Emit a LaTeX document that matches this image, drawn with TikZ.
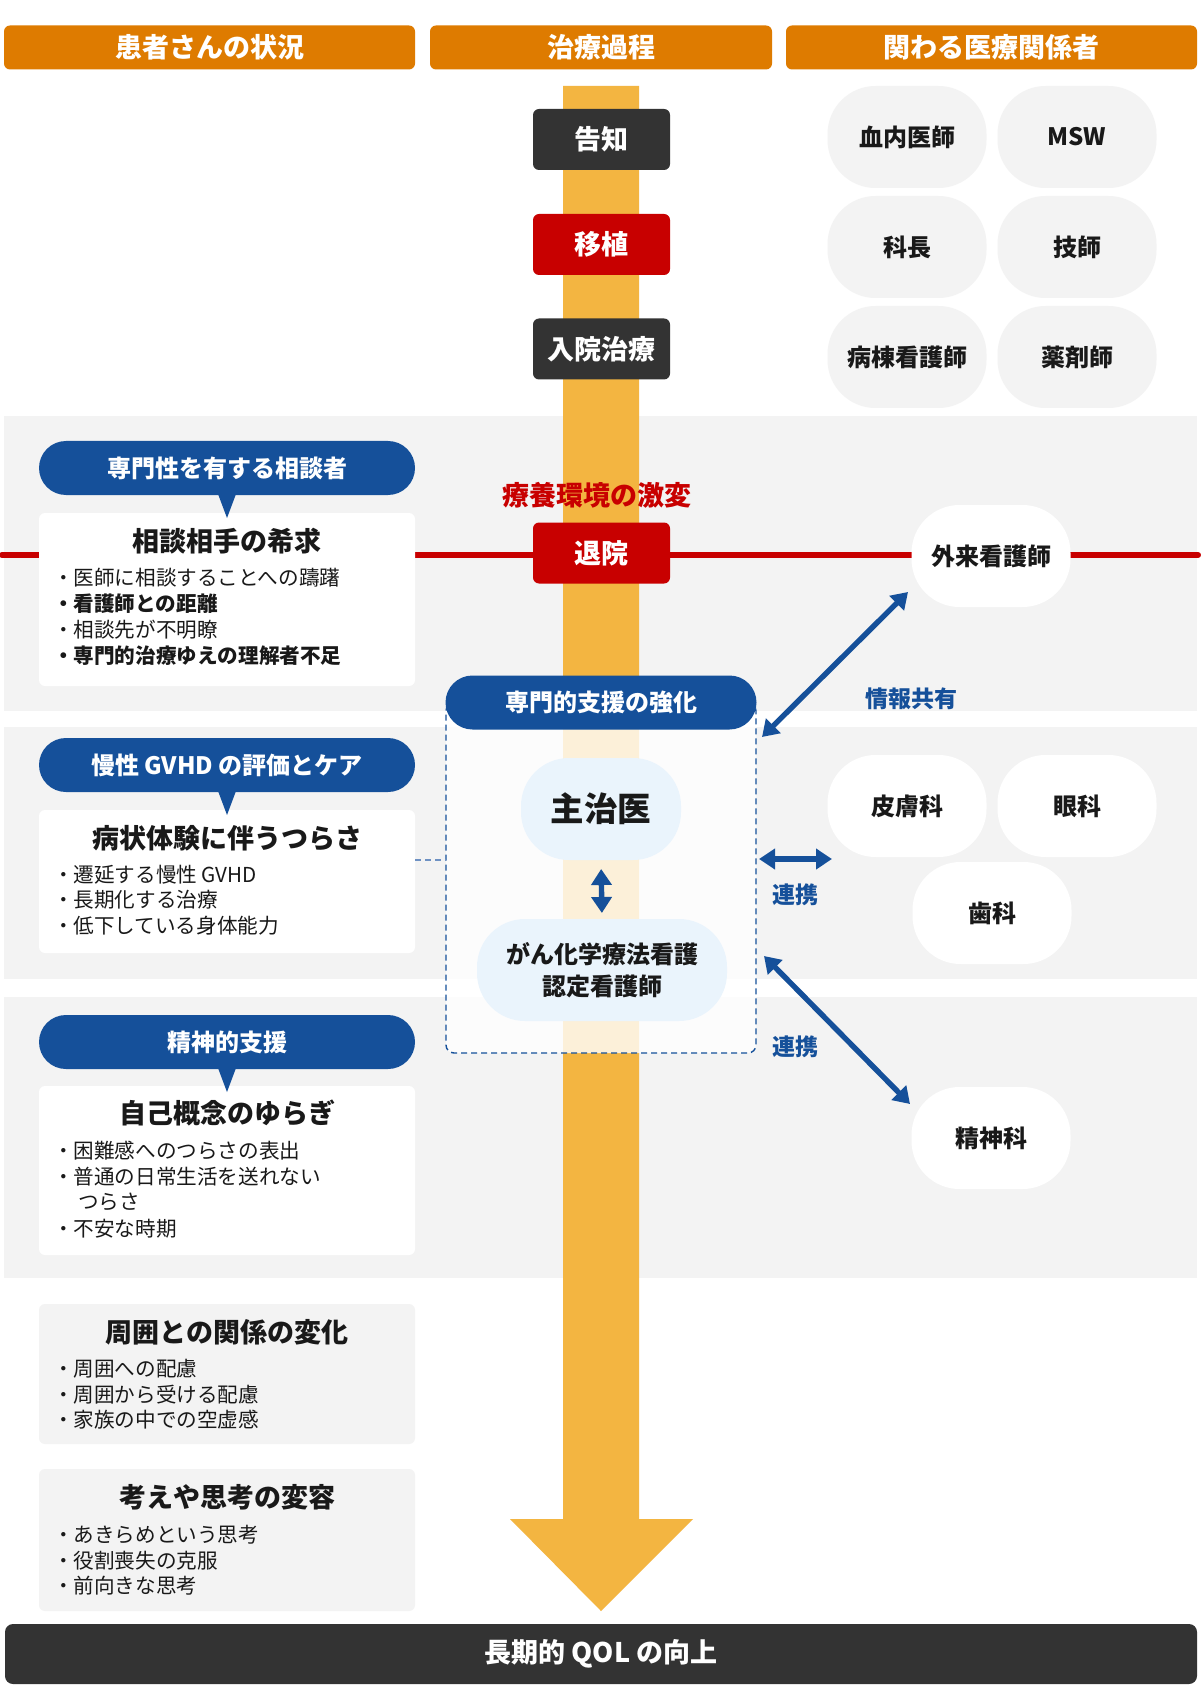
\documentclass[tikz,border=0pt]{standalone}
\usepackage{fontspec}
\setmainfont{Noto Sans CJK JP}
\usetikzlibrary{arrows.meta}
\definecolor{cHdr}{RGB}{222,123,0}
\definecolor{cTrunk}{RGB}{243,181,65}
\definecolor{cDark}{RGB}{51,51,51}
\definecolor{cRed}{RGB}{200,0,0}
\definecolor{cGray}{RGB}{243,243,243}
\definecolor{cBlue}{RGB}{21,80,154}
\definecolor{cLblue}{RGB}{234,244,252}
\definecolor{cLink}{RGB}{110,145,195}
\definecolor{cTxt}{RGB}{25,25,25}
\newcommand\fsA{\fontsize{13.5pt}{16pt}\selectfont}
\newcommand\fsB{\fontsize{12pt}{14pt}\selectfont}
\newcommand\fsC{\fontsize{10.3pt}{12pt}\selectfont}
\newcommand\fsD{\fontsize{16.75pt}{20pt}\selectfont}
\newcommand\fsE{\fontsize{11.5pt}{14pt}\selectfont}
\begin{document}
\begin{tikzpicture}[x=0.5pt,y=-0.5pt,
  every node/.style={inner sep=0pt, outer sep=0pt},
  hdr/.style={fill=cHdr, rounded corners=3pt, minimum height=22pt, text=white, font=\bfseries\fsA},
  stepbox/.style={rounded corners=3pt, minimum width=68.5pt, minimum height=30.5pt, text=white, font=\bfseries\fsA},
  staff/.style={rounded corners=24pt, minimum width=79.5pt, minimum height=51pt, text=cTxt, font=\bfseries\fsB},
  pill/.style={fill=cBlue, rounded corners=13.5pt, minimum height=27pt, text=white, font=\bfseries\fsB},
  card/.style={rounded corners=3pt, minimum width=188pt, anchor=north west},
  ttl/.style={text=cTxt, font=\bfseries\fsA},
  bul/.style={anchor=west, text=cTxt, font=\fsC},
  bulb/.style={anchor=west, text=cTxt, font=\bfseries\fsC},
  link/.style={draw=cBlue, line width=2.7pt, >={Triangle[length=8pt,width=10pt]}, <->},
  lbl/.style={text=cBlue, font=\bfseries\fsE}
]
\useasboundingbox (0,0) rectangle (1200,1695);
\fill[white] (0,0) rectangle (1200,1695);
% bands
\fill[cGray] (4,416) rectangle (1197,711);
\fill[cGray] (4,727) rectangle (1197,979);
\fill[cGray] (4,997) rectangle (1197,1278);
% red line
\draw[cRed, line width=3pt, line cap=round] (2,555) -- (1198,555);
% trunk
\fill[cTrunk] (563,86) -- (639,86) -- (639,1519) -- (693,1519) -- (601,1611) -- (510,1519) -- (563,1519) -- cycle;
% headers
\node[hdr, minimum width=205.5pt] (h1) at (209.5,47.5) {患者さんの状況};
\node[hdr, minimum width=171pt] (h2) at (601,47.5) {治療過程};
\node[hdr, minimum width=205.5pt] (h3) at (991.5,47.5) {関わる医療関係者};
% steps
\node[stepbox, fill=cDark] (s1) at (601.5,139.5) {告知};
\node[stepbox, fill=cRed] (s2) at (601.5,244.5) {移植};
\node[stepbox, fill=cDark] (s3) at (601.5,349) {入院治療};
\node[stepbox, fill=cRed] (s4) at (601.5,553) {退院};
\node[text=cRed, font=\bfseries\fsA] (gek) at (597,495) {療養環境の激変};
% staff top
\node[staff, fill=cGray] (m1) at (907,137) {血内医師};
\node[staff, fill=cGray] (m2) at (1077,137) {MSW};
\node[staff, fill=cGray] (m3) at (907,247) {科長};
\node[staff, fill=cGray] (m4) at (1077,247) {技師};
\node[staff, fill=cGray] (m5) at (907,357) {病棟看護師};
\node[staff, fill=cGray] (m6) at (1077,357) {薬剤師};
% staff in bands
\node[staff, fill=white] (gai) at (991,556) {外来看護師};
\node[staff, fill=white] (hif) at (907,806) {皮膚科};
\node[staff, fill=white] (gan2) at (1077,806) {眼科};
\node[staff, fill=white] (shi) at (992,913) {歯科};
\node[staff, fill=white] (sei) at (991,1138) {精神科};
% dashed box
\node[draw=cBlue, dash pattern=on 3pt off 2pt, line width=0.7pt, fill=white, fill opacity=0.8, rounded corners=4pt, minimum width=155pt, minimum height=175pt] (dbox) at (601,878) {};
\node[pill, minimum width=155.5pt] (p0) at (601,702.5) {専門的支援の強化};
\node[staff, fill=cLblue, minimum width=80pt, font=\bfseries\fsD] (zhu) at (601,809) {主治医};
\node[staff, fill=cLblue, minimum width=125pt, align=center, font=\bfseries\fontsize{12pt}{16pt}\selectfont] (gan) at (602,970) {がん化学療法看護\\認定看護師};
\draw[link, shorten <=4.5pt, shorten >=3pt] (zhu.south) -- (gan.north);
% arrows right
\coordinate (i1) at (762,737);
\coordinate (i2) at (908,592);
\draw[link] (i1) -- (i2);
\node[lbl] (lb1) at (911,699) {情報共有};
\coordinate (l1) at (759,859);
\coordinate (l2) at (832,859);
\draw[link] (l1) -- (l2);
\node[lbl] (lb2) at (795,895) {連携};
\coordinate (k1) at (764,956);
\coordinate (k2) at (910,1104);
\draw[link] (k1) -- (k2);
\node[lbl] (lb3) at (795,1047) {連携};
% left cards
\node[card, fill=white, minimum height=86.5pt] (c1) at (39,513) {};
\node[card, fill=white, minimum height=71.5pt] (c2) at (39,810) {};
\node[card, fill=white, minimum height=84.5pt] (c3) at (39,1086) {};
\node[card, fill=cGray, minimum height=70pt] (c4) at (39,1304) {};
\node[card, fill=cGray, minimum height=71pt] (c5) at (39,1469) {};
\draw[cLink, dash pattern=on 3pt off 2pt, line width=0.6pt] (c2.east |- zhu.south) -- (dbox.west |- zhu.south);
% pills
\node[pill, minimum width=188pt] (p1) at (227,468) {専門性を有する相談者};
\fill[cBlue] (p1.south) ++(-9,-1) -- ++(18,0) -- ++(-9,24) -- cycle;
\node[pill, minimum width=188pt] (p2) at (227,765) {慢性 GVHD の評価とケア};
\fill[cBlue] (p2.south) ++(-9,-1) -- ++(18,0) -- ++(-9,24) -- cycle;
\node[pill, minimum width=188pt] (p3) at (227,1042) {精神的支援};
\fill[cBlue] (p3.south) ++(-9,-1) -- ++(18,0) -- ++(-9,24) -- cycle;
% card 1
\node[ttl] (t1) at (227,541) {相談相手の希求};
\node[bul] (b11) at (53,578) {・医師に相談することへの躊躇};
\node[bulb] (b12) at (53,604) {・看護師との距離};
\node[bul] (b13) at (53,630) {・相談先が不明瞭};
\node[bulb] (b14) at (53,656) {・専門的治療ゆえの理解者不足};
% card 2
\node[ttl] (t2) at (227,838) {病状体験に伴うつらさ};
\node[bul] (b21) at (53,875) {・遷延する慢性 GVHD};
\node[bul] (b22) at (53,900) {・長期化する治療};
\node[bul] (b23) at (53,926) {・低下している身体能力};
% card 3
\node[ttl] (t3) at (227,1113) {自己概念のゆらぎ};
\node[bul] (b31) at (53,1151) {・困難感へのつらさの表出};
\node[bul] (b32) at (53,1177) {・普通の日常生活を送れない};
\node[bul] (b33) at (78,1202) {つらさ};
\node[bul] (b34) at (53,1229) {・不安な時期};
% card 4
\node[ttl] (t4) at (227,1332) {周囲との関係の変化};
\node[bul] (b41) at (53,1369) {・周囲への配慮};
\node[bul] (b42) at (53,1395) {・周囲から受ける配慮};
\node[bul] (b43) at (53,1420) {・家族の中での空虚感};
% card 5
\node[ttl] (t5) at (227,1497) {考えや思考の変容};
\node[bul] (b51) at (53,1535) {・あきらめという思考};
\node[bul] (b52) at (53,1561) {・役割喪失の克服};
\node[bul] (b53) at (53,1586) {・前向きな思考};
% bottom
\node[fill=cDark, rounded corners=4pt, minimum width=596pt, minimum height=30pt, text=white, font=\bfseries\fsA] (qol) at (601,1654) {長期的 QOL の向上};
\end{tikzpicture}
\end{document}
